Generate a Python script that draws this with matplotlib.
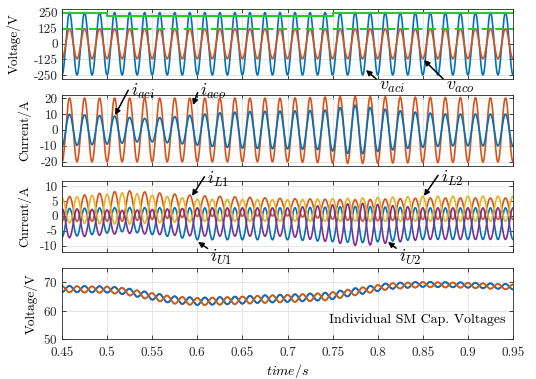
import numpy as np
import matplotlib
matplotlib.use('Agg')
import matplotlib.pyplot as plt

plt.rcParams['font.family'] = 'serif'
plt.rcParams['font.serif'] = ['cmr10']
plt.rcParams['mathtext.fontset'] = 'cm'
plt.rcParams['axes.unicode_minus'] = False
plt.rcParams['axes.formatter.use_mathtext'] = True

BLUE, ORANGE, YELLOW, PURPLE, GREEN = '#0072BD', '#D95319', '#EDB120', '#7E2F8E', '#77AC30'
BRIGHT_GREEN = '#22CC22'

# ---------------- data ----------------
f_grid = 60.0
t = np.linspace(0.45, 0.95, 6001)
carrier = -np.cos(2 * np.pi * f_grid * t)

# panel 1: AC voltages
v_aci_amp = 250.0
v_aco_amp = 120.0
dc_solid_t = [0.45, 0.5, 0.5, 0.75, 0.75, 0.95]
dc_solid_v = [250, 250, 226, 226, 250, 250]
dc_dashed_v = 122

# panel 2: AC currents (envelope knots)
i_aci_env_t = [0.45, 0.509, 0.54, 0.573, 0.592, 0.625, 0.658, 0.709, 0.743, 0.759, 0.776, 0.793, 0.809, 0.826, 0.842, 0.876, 0.95]
i_aci_env_a = [10, 8.7, 7.2, 8.3, 9.2, 10.8, 11.6, 12, 12.5, 14.1, 15.6, 14, 13, 12, 11.2, 10, 10]
i_aco_env_t = [0.45, 0.70, 0.77, 0.85, 0.95]
i_aco_env_a = [20, 20, 21, 20.5, 20]

# panel 3: arm currents (upper / lower envelope knots)
arm_t = [0.45, 0.52, 0.60, 0.70, 0.78, 0.85, 0.95]
iL1_hi = [6.2, 8.5, 6.8, 5.8, 5.4, 6.0, 6.0]
iL1_lo = [-1.8, -1.8, -0.2, 0.0, -1.8, -1.2, -1.2]
iL2_hi = [6.0, 7.8, 5.6, 5.4, 6.0, 6.6, 6.6]
iL2_lo = [-2.3, -2.8, -1.8, -1.8, -1.8, -1.8, -1.8]
iU1_hi = [2.5, 2.8, 2.7, 2.7, 3.2, 2.7, 2.7]
iU1_lo = [-7.2, -5.2, -8.0, -8.0, -9.0, -7.9, -7.9]
iU2_hi = [2.5, 1.8, 2.7, 2.7, 4.3, 2.7, 2.7]
iU2_lo = [-7.5, -5.8, -6.8, -6.8, -10.1, -7.9, -7.9]

# panel 4: SM capacitor voltages
cap_t = [0.45, 0.5, 0.52, 0.55, 0.572, 0.6, 0.636, 0.67, 0.709, 0.745, 0.767, 0.79, 0.812, 0.849, 0.894, 0.945, 0.95]
cap_mean = [67.6, 67.4, 66.8, 65.0, 63.8, 63.2, 63.5, 64.0, 64.4, 65.0, 66.2, 67.4, 68.6, 69.2, 69.0, 68.4, 68.3]
ripple_t = [0.45, 0.5, 0.55, 0.6, 0.7, 0.75, 0.8, 0.85, 0.95]
ripple_a = [1.1, 1.1, 1.2, 1.3, 1.3, 1.3, 1.1, 0.9, 0.9]
cap_offsets = [0.0, 0.1, -0.1, 0.0]
cap_signs = [1, 1, -1, -1]
cap_colors = [PURPLE, BLUE, GREEN, ORANGE]

def env(kt, kv):
    return np.interp(t, kt, kv)

def banded(kt, hi, lo, sign):
    h = env(kt, hi); l = env(kt, lo)
    return (h + l) / 2 + sign * (h - l) / 2 * carrier

# ---------------- figure ----------------
W, H = 536, 379
fig = plt.figure(figsize=(W / 100, H / 100), dpi=100)

def ax_at(top, bottom):
    return fig.add_axes([62 / W, 1 - bottom / H, (513 - 62) / W, (bottom - top) / H])

ax1 = ax_at(9, 79)
ax2 = ax_at(95, 166)
ax3 = ax_at(181, 252)
ax4 = ax_at(268, 339)

TFS = 9.5
for ax in (ax1, ax2, ax3, ax4):
    ax.set_xlim(0.45, 0.95)
    ax.set_xticks(np.round(np.arange(0.45, 0.951, 0.05), 2))
    ax.grid(True, color='#e3e3e3', lw=0.6)
    ax.set_axisbelow(True)
    ax.tick_params(direction='in', top=True, right=True, length=3, width=0.6,
                   labelsize=TFS, colors='#262626', pad=3)
    for s in ax.spines.values():
        s.set_color('#262626'); s.set_linewidth(0.6)
for ax in (ax1, ax2, ax3):
    ax.set_xticklabels([])
ax4.set_xticklabels(['0.45', '0.5', '0.55', '0.6', '0.65', '0.7', '0.75', '0.8', '0.85', '0.9', '0.95'])
ax4.tick_params(axis='x', pad=6)

# panel 1
ax1.plot(t, v_aci_amp * carrier, color=BLUE, lw=1.2)
ax1.plot(t, v_aco_amp * carrier, color=ORANGE, lw=1.2)
ax1.plot(dc_solid_t, dc_solid_v, color=BRIGHT_GREEN, lw=1.5)
ax1.axhline(dc_dashed_v, color=BRIGHT_GREEN, lw=1.5, ls=(0, (4, 2.5)))
ax1.set_ylim(-282, 278)
ax1.set_yticks([-250, -125, 0, 125, 250])
ax1.set_yticklabels(['-250', '-125', '0', '125', '250'])
ax1.set_ylabel('Voltage/V', fontsize=TFS)
ax1.yaxis.set_label_coords(-0.091, 0.5)

# panel 2
ax2.plot(t, env(i_aco_env_t, i_aco_env_a) * carrier, color=ORANGE, lw=1.2)
ax2.plot(t, env(i_aci_env_t, i_aci_env_a) * carrier, color=BLUE, lw=1.2)
ax2.set_ylim(-22.6, 21.9)
ax2.set_yticks([-20, -10, 0, 10, 20])
ax2.set_yticklabels(['-20', '-10', '0', '10', '20'])
ax2.set_ylabel('Current/A', fontsize=TFS)
ax2.yaxis.set_label_coords(-0.069, 0.5)

# panel 3
ax3.plot(t, banded(arm_t, iU1_hi, iU1_lo, 1), color=BLUE, lw=1.2)
ax3.plot(t, banded(arm_t, iL1_hi, iL1_lo, 1), color=ORANGE, lw=1.2)
ax3.plot(t, banded(arm_t, iL2_hi, iL2_lo, -1), color=YELLOW, lw=1.2)
ax3.plot(t, banded(arm_t, iU2_hi, iU2_lo, -1), color=PURPLE, lw=1.2)
ax3.set_ylim(-12.1, 11.7)
ax3.set_yticks([-10, -5, 0, 5, 10])
ax3.set_yticklabels(['-10', '-5', '0', '5', '10'])
ax3.set_ylabel('Current/A', fontsize=TFS)
ax3.yaxis.set_label_coords(-0.069, 0.5)

# panel 4
mean = env(cap_t, cap_mean)
rip = env(ripple_t, ripple_a)
for off, sg, c in zip(cap_offsets, cap_signs, cap_colors):
    ax4.plot(t, mean + off + sg * rip * carrier, color=c, lw=1.2)
ax4.set_ylim(50, 75)
ax4.set_yticks([50, 60, 70])
ax4.set_ylabel('Voltage/V', fontsize=TFS)
ax4.yaxis.set_label_coords(-0.053, 0.5)
ax4.set_xlabel(r'$time/s$', fontsize=TFS + 0.5, labelpad=2)
ax4.text(0.942, 56.7, 'Individual SM Cap. Voltages', ha='right', va='center', fontsize=10)

# annotations
AFS = 13
ap = dict(arrowstyle='-|>', color='k', lw=1.1, mutation_scale=8, shrinkA=0, shrinkB=0)

def note(ax, label, tip, txt):
    ax.annotate(label, xy=tip, xytext=txt, ha='left', va='center', fontsize=AFS,
                annotation_clip=False, arrowprops=dict(ap, relpos=(0.0, 0.85)))

note(ax1, r'$v_{aci}$', (0.787, -210), (0.8015, -345))
note(ax1, r'$v_{aco}$', (0.8513, -130), (0.8755, -345))
note(ax2, r'$i_{aci}$', (0.5088, 9.3), (0.5265, 24.0))
note(ax2, r'$i_{aco}$', (0.5952, 15.6), (0.6035, 24.0))
note(ax3, r'$i_{L1}$', (0.5941, 6.7), (0.611, 12.3))
note(ax3, r'$i_{U1}$', (0.6008, -8.7), (0.6145, -13.8))
note(ax3, r'$i_{L2}$', (0.8513, 6.7), (0.8700, 12.7))
note(ax3, r'$i_{U2}$', (0.8114, -8.7), (0.8235, -13.8))

fig.savefig('out.png', dpi=100)
